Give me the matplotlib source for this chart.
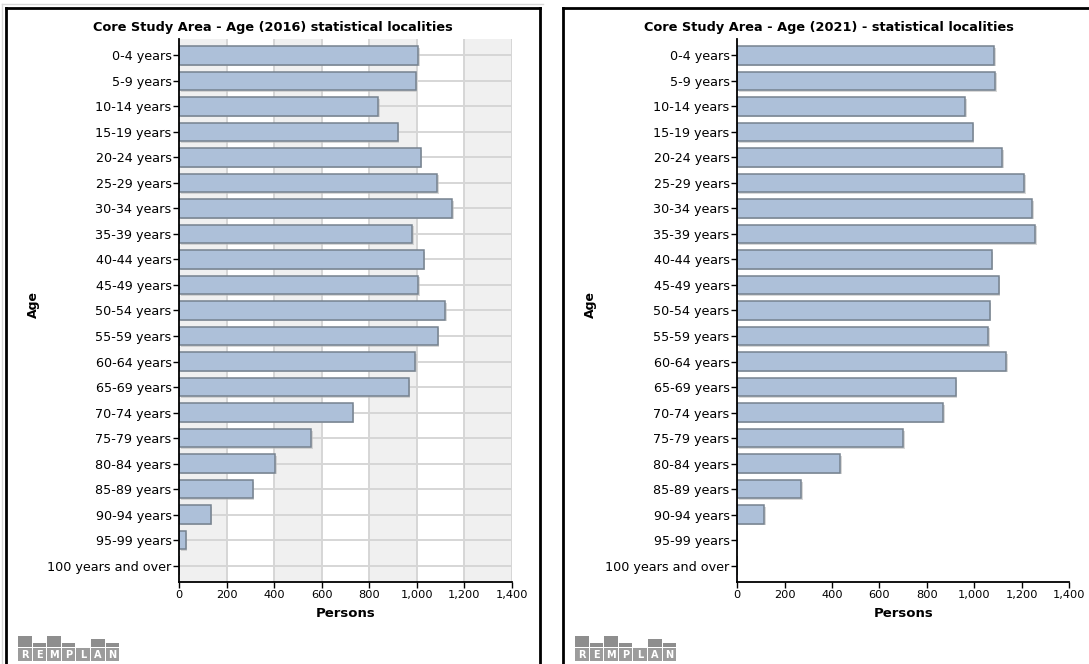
import matplotlib
matplotlib.use("Agg")
import matplotlib.pyplot as plt
from matplotlib.patches import Rectangle
from matplotlib.lines import Line2D
from matplotlib.ticker import FuncFormatter
import matplotlib.patheffects as pe

# ---- data -------------------------------------------------------------
age_groups = [
    "0-4 years", "5-9 years", "10-14 years", "15-19 years", "20-24 years",
    "25-29 years", "30-34 years", "35-39 years", "40-44 years", "45-49 years",
    "50-54 years", "55-59 years", "60-64 years", "65-69 years", "70-74 years",
    "75-79 years", "80-84 years", "85-89 years", "90-94 years", "95-99 years",
    "100 years and over",
]
persons_2016 = [1006, 994, 837, 919, 1016, 1084, 1147, 980, 1028, 1006,
                1119, 1087, 992, 965, 730, 556, 404, 309, 132, 27, 0]
persons_2021 = [1084, 1089, 961, 993, 1118, 1210, 1245, 1256, 1073, 1103,
                1065, 1059, 1134, 921, 868, 699, 433, 270, 114, 0, 0]
x_ticks = [0, 200, 400, 600, 800, 1000, 1200, 1400]
titles = ["Core Study Area - Age (2016) statistical localities",
          "Core Study Area - Age (2021) - statistical localities"]

# ---- style ------------------------------------------------------------
W, H = 1089, 664
FONT = "DejaVu Sans"
BAR_FACE = "#adc0d9"
BAR_EDGE = "#76828f"
BAND = "#f0f0f0"
GRID = "#d6d6d6"

plt.rcParams["font.family"] = FONT

fig = plt.figure(figsize=(W / 100, H / 100), dpi=100)
fig.patch.set_facecolor("white")


def fx(px):
    return px / W


def fy(py):
    return 1 - py / H


def panel(ax_left_px, ax_right_px, values, title, banded, box_left_px, box_right_px):
    top_px, bottom_px = 39, 582
    ax = fig.add_axes([fx(ax_left_px), fy(bottom_px),
                       fx(ax_right_px - ax_left_px), (bottom_px - top_px) / H])
    ypos = list(range(len(age_groups)))
    ax.set_xlim(x_ticks[0], x_ticks[-1])
    ax.set_ylim(len(age_groups) - 1 + 0.64, -0.64)

    if banded:
        for i in range(0, len(x_ticks) - 1, 2):
            ax.axvspan(x_ticks[i], x_ticks[i + 1], color=BAND, zorder=0, lw=0)
        for t in x_ticks[1:]:
            ax.axvline(t, color=GRID, lw=1.4, zorder=0.5)
        for y in ypos:
            ax.axhline(y, color=GRID, lw=1.4, zorder=0.5)

    bars = ax.barh(ypos, values, height=0.72, color=BAR_FACE,
                   edgecolor=BAR_EDGE, linewidth=1.1, zorder=2)
    for b in bars:
        if b.get_width() > 0:
            b.set_path_effects([pe.SimplePatchShadow(offset=(1.2, -1.2),
                                                     shadow_rgbFace="#bfbfbf",
                                                     alpha=0.6),
                                pe.Normal()])

    ax.set_yticks(ypos)
    ax.set_yticklabels(age_groups, fontsize=9.2)
    ax.set_xticks(x_ticks)
    ax.xaxis.set_major_formatter(FuncFormatter(lambda v, p: f"{int(v):,}"))
    ax.tick_params(axis="x", labelsize=8.2, length=4, width=1, pad=2)
    ax.tick_params(axis="y", length=4, width=1, pad=1.5)
    for s in ("top", "right"):
        ax.spines[s].set_visible(False)
    for s in ("left", "bottom"):
        ax.spines[s].set_linewidth(1.3)
        ax.spines[s].set_zorder(3)
    ax.set_facecolor("white")

    ax.set_xlabel("Persons", fontsize=9.5, fontweight="bold", labelpad=5)

    # panel title, centred on the panel box
    fig.text(fx((box_left_px + box_right_px) / 2), fy(28), title,
             ha="center", va="center", fontsize=9.3, fontweight="bold")
    # vertical axis label
    fig.text(fx(box_left_px + 27), fy(305), "Age", rotation=90,
             ha="center", va="center", fontsize=9, fontweight="bold")

    # panel frame (open at the bottom)
    frame = dict(color="black", lw=2, transform=fig.transFigure)
    fig.add_artist(Line2D([fx(box_left_px), fx(box_left_px)], [fy(8), 0], **frame))
    fig.add_artist(Line2D([fx(box_left_px), fx(box_right_px)], [fy(8), fy(8)], **frame))
    fig.add_artist(Line2D([fx(box_right_px), fx(box_right_px)], [fy(8), 0], **frame))

    # REMPLAN logo
    letters = "REMPLAN"
    tops = [636, 643, 636, 643, 648, 639, 643]
    x0, cw, gap = box_left_px + 12, 13.6, 1.0
    for i, (ch, t) in enumerate(zip(letters, tops)):
        xl = x0 + i * (cw + gap)
        if t < 648:
            fig.add_artist(Rectangle((fx(xl), fy(647)), fx(cw), (647 - t) / H,
                                     transform=fig.transFigure,
                                     facecolor="#8e8e8e", edgecolor="none"))
        fig.add_artist(Rectangle((fx(xl), fy(661)), fx(cw), 13 / H,
                                 transform=fig.transFigure,
                                 facecolor="#9c9c9c", edgecolor="none"))
        fig.text(fx(xl + cw / 2), fy(654.5), ch, ha="center", va="center",
                 fontsize=7, fontweight="bold", color="white")
    return ax


# faint outer frame around the first panel
outer = dict(color="#d8d8d8", lw=1, transform=fig.transFigure)
fig.add_artist(Line2D([fx(2), fx(543)], [fy(4), fy(4)], **outer))
fig.add_artist(Line2D([fx(2), fx(2)], [fy(4), 0], **outer))

panel(179.3, 512, persons_2016, titles[0], True, 6, 540)
panel(737.3, 1069, persons_2021, titles[1], False, 563, 1095)

fig.savefig("out.png", dpi=100)
